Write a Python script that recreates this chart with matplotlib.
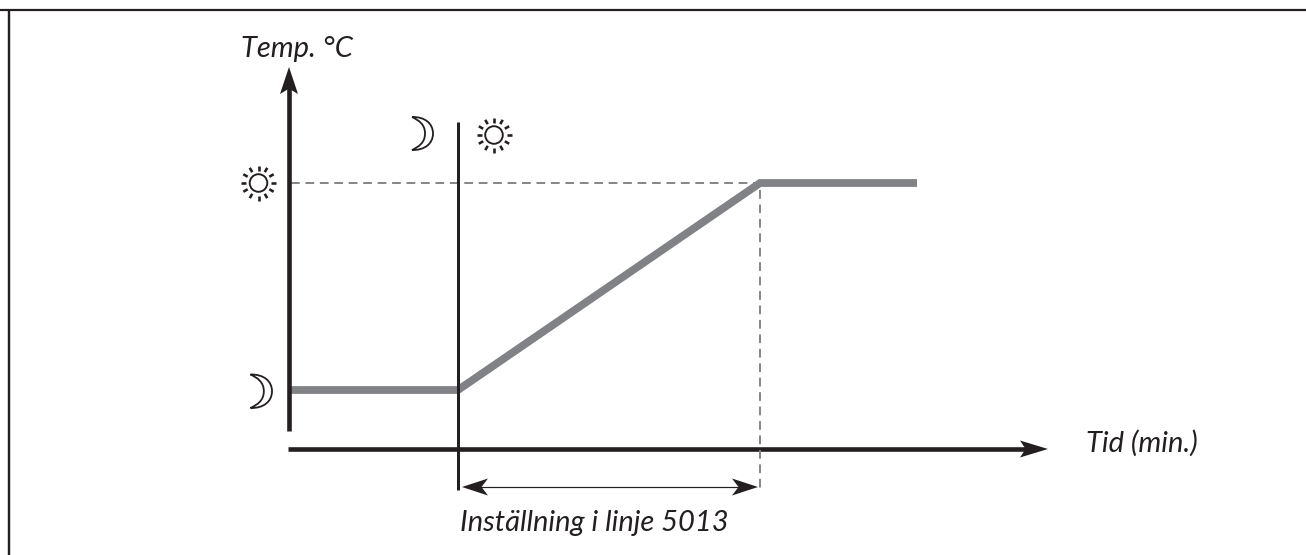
import numpy as np
import matplotlib
matplotlib.use("Agg")
import matplotlib.pyplot as plt
from matplotlib.path import Path
from matplotlib.patches import PathPatch, Polygon, Circle

W, H = 1306, 555
# Data: temperature profile and reference levels (values read in picture units)
profile_time = [291, 458, 760, 917]
profile_temp = [390, 390, 183, 183]
switch_time = 458
end_time = 760
day_level = 183
axis_time_start = 288
axis_time_end = 1048
axis_temp_bottom = 431
axis_temp_top = 67
axis_temp_x = 289
axis_time_y = 449
label_temp = "Temp. °C"
label_time = "Tid (min.)"
label_setting = "Inställning i linje 5013"

INK = "#231f20"
GREY = "#808285"
FONT = ["Lato", "DejaVu Sans"]

fig = plt.figure(figsize=(W / 100, H / 100), dpi=100, facecolor="white")
ax = fig.add_axes([0, 0, 1, 1])
ax.set_xlim(0, W)
ax.set_ylim(H, 0)
ax.axis("off")
px = 0.72  # points per pixel at dpi 100


def head(tip, direction, length, half, notch=0.2):
    d = np.array(direction, float)
    n = np.array([-d[1], d[0]])
    t = np.array(tip, float)
    pts = [t, t - d * length + n * half, t - d * length * (1 - notch), t - d * length - n * half]
    ax.add_patch(Polygon(pts, closed=True, fc=INK, ec="none", zorder=6))


def sun(cx, cy, r=8.8, r0=12.5, r1=17.5):
    ax.add_patch(Circle((cx, cy), r, fc="white", ec=INK, lw=1.9 * px, zorder=5))
    for a in np.arange(12) * np.pi / 6:
        c, s = np.cos(a), np.sin(a)
        ax.plot([cx + r0 * c, cx + r1 * c], [cy + r0 * s, cy + r1 * s], color=INK,
                lw=2.6 * px, solid_capstyle="butt", zorder=5)


def moon(x0, x1, y0, y1):
    w, h = x1 - x0, y1 - y0
    ym = (y0 + y1) / 2
    verts = [(x0, y0),
             (x0 + w * 0.62, y0 - h * 0.01), (x1, ym - h * 0.30), (x1, ym),
             (x1, ym + h * 0.30), (x0 + w * 0.62, y1 + h * 0.01), (x0, y1),
             (x0 + w * 0.32, y1 - h * 0.10), (x0 + w * 0.62, ym + h * 0.28), (x0 + w * 0.62, ym),
             (x0 + w * 0.62, ym - h * 0.28), (x0 + w * 0.32, y0 + h * 0.10), (x0, y0)]
    codes = [Path.MOVETO] + [Path.CURVE4] * 12
    ax.add_patch(PathPatch(Path(verts, codes), fc="white", ec=INK, lw=1.8 * px, zorder=5))


# Frame: top and left rules only
ax.plot([0, W], [10, 10], color=INK, lw=2.2 * px, solid_capstyle="butt")
ax.plot([8.5, 8.5], [10, H], color=INK, lw=2.4 * px, solid_capstyle="butt")

# Dashed guides
ax.plot([291, end_time], [day_level, day_level], color=GREY, lw=1.9 * px,
        dashes=(4.6, 3.0), zorder=2)
ax.plot([end_time, end_time], [190, 492], color=GREY, lw=1.9 * px,
        dashes=(4.6, 3.0), zorder=7)

# Profile
ax.plot(profile_time, profile_temp, color=GREY, lw=7.8 * px, solid_joinstyle="miter",
        solid_capstyle="butt", zorder=4)

# Axes
ax.plot([axis_temp_x, axis_temp_x], [axis_temp_bottom, axis_temp_top + 20], color=INK,
        lw=4.6 * px, solid_capstyle="butt", zorder=5)
head((axis_temp_x, axis_temp_top), (0, -1), 27, 9)
ax.plot([axis_time_start, axis_time_end - 20], [axis_time_y, axis_time_y], color=INK,
        lw=4.6 * px, solid_capstyle="butt", zorder=5)
head((axis_time_end, axis_time_y), (1, 0), 28, 8.5)

# Switch line
ax.plot([switch_time, switch_time], [122, 490], color=INK, lw=3 * px,
        solid_capstyle="butt", zorder=5)

# Span arrow
ax.plot([470, 745], [487, 487], color=INK, lw=1.2 * px, solid_capstyle="butt", zorder=5)
head((462, 487), (-1, 0), 26, 8.5, notch=0.25)
head((758, 487), (1, 0), 26, 8.5, notch=0.25)

# Symbols
sun(258.5, 183)
sun(494, 135)
moon(412, 433, 117, 150)
moon(250.5, 272, 374.5, 408)

# Labels
ax.text(241, 56.5, label_temp, fontsize=21, style="italic", family=FONT, color=INK,
        ha="left", va="baseline")
ax.text(1086, 452, label_time, fontsize=21, style="italic", family=FONT, color=INK,
        ha="left", va="baseline")
ax.text(460, 531, label_setting, fontsize=21, style="italic", family=FONT, color=INK,
        ha="left", va="baseline")

fig.savefig("out.png", dpi=100, facecolor="white")
